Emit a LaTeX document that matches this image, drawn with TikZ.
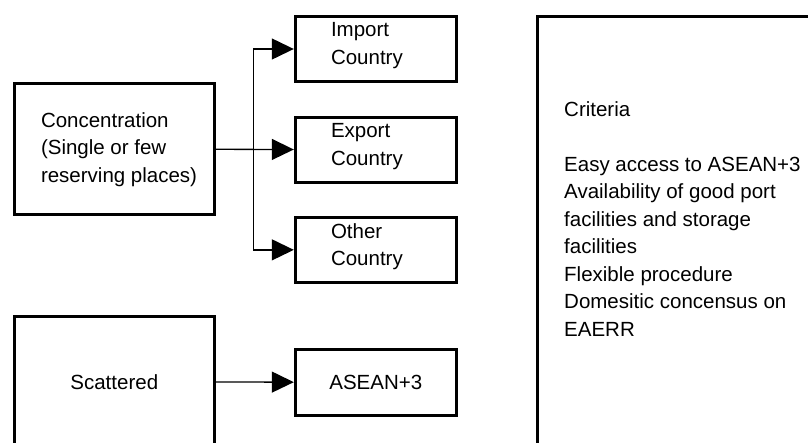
\documentclass[tikz,border=0pt]{standalone}
\usepackage{fontspec}
\setmainfont{Liberation Sans}
\usetikzlibrary{arrows.meta,positioning}

\begin{document}
\begin{tikzpicture}[x=1pt, y=-1pt,
    font=\fontsize{20.5}{27.5}\selectfont,
    box/.style={draw, rectangle, line width=3pt, inner sep=0pt, anchor=north west},
    txt/.style={align=left, inner sep=0pt, anchor=west},
    arr/.style={-{Triangle[length=22pt,width=21pt]}, line width=1.3pt}]
    \useasboundingbox (0,0) rectangle (808,442);
    \clip (0,0) rectangle (808,442);

    % Left side: where the reserve is kept
    \node[box, minimum width=200pt, minimum height=131pt] (conc) at (12.8,82.3) {};
    \node[txt] (concT) at ([xshift=28pt]conc.west) {Concentration\\(Single or few\\reserving places)};
    \node[box, minimum width=200pt, minimum height=132pt] (scat) at (12.8,314.5) {Scattered};

    % Middle: possible locations
    \node[box, minimum width=161pt, minimum height=64.6pt] (imp) at (293.8,15.2) {};
    \node[txt] (impT) at ([xshift=37pt,yshift=3.4pt]imp.west) {Import\\Country};
    \node[box, minimum width=161pt, minimum height=65pt] (exp) at (293.8,115.5) {};
    \node[txt] (expT) at ([xshift=37pt,yshift=3pt]exp.west) {Export\\Country};
    \node[box, minimum width=161pt, minimum height=65.7pt] (oth) at (293.8,215.5) {};
    \node[txt] (othT) at ([xshift=37pt,yshift=3pt]oth.west) {Other\\Country};
    \node[box, minimum width=161pt, minimum height=65.7pt] (asean) at (293.8,347.8) {ASEAN+3};

    % Right side: criteria
    \node[box, minimum width=400pt, minimum height=500pt] (crit) at (536,15.2) {};
    \node[txt, anchor=north west] (critT) at ([xshift=28pt,yshift=-86pt]crit.north west)
        {Criteria\\[27.5pt]Easy access to ASEAN+3\\Availability of good port\\facilities and storage\\facilities\\Flexible procedure\\Domesitic concensus on\\EAERR};

    % Arrows
    \coordinate[left=40pt of exp.west] (fork);
    \draw[arr] (conc.east) -- (exp.west);
    \draw[arr] (fork) |- (imp.west);
    \draw[arr] (fork) |- (oth.west);
    \draw[arr] (scat.east) -- (asean.west);
\end{tikzpicture}
\end{document}
